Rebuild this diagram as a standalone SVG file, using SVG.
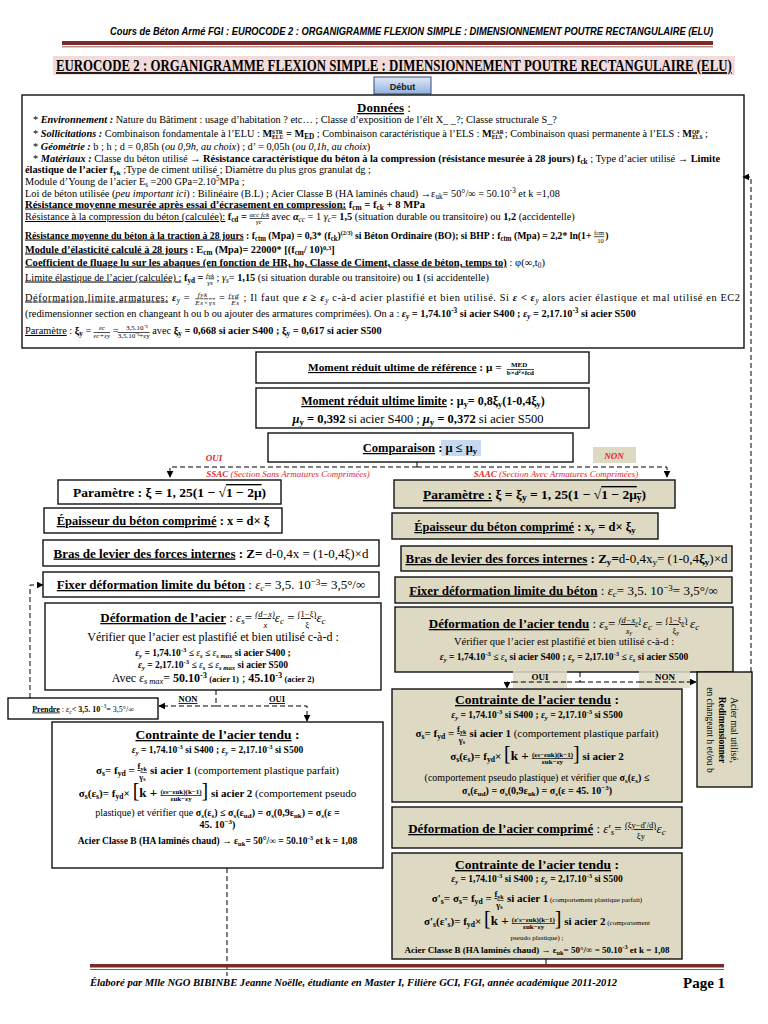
<svg xmlns="http://www.w3.org/2000/svg" width="768" height="1024" viewBox="0 0 768 1024">
<defs>
<linearGradient id="gb" x1="0" y1="0" x2="0" y2="1"><stop offset="0" stop-color="#e2eaf6"/><stop offset="1" stop-color="#8fb0dd"/></linearGradient>
<marker id="ah" viewBox="0 0 10 10" refX="9" refY="5" markerWidth="7" markerHeight="7" orient="auto" markerUnits="userSpaceOnUse"><path d="M0,0L10,5L0,10z" fill="#000"/></marker>
<style>
.s{font-family:"Liberation Serif","Times New Roman",serif;fill:#000}
.f{font-size:10.3px}
.b{font-weight:bold}
.i{font-style:italic}
.u{text-decoration:underline}
.c{text-anchor:middle}
.sb{font-size:70%;baseline-shift:-2.2px}
.sp{font-size:70%;baseline-shift:3.8px}
.sq{font-size:6.5px;baseline-shift:2.8px}
.ss{font-size:5.5px;baseline-shift:3.5px;font-weight:bold}
.su{font-size:5.5px;baseline-shift:-2px;font-weight:bold}
.n7{font-size:7px;baseline-shift:3.5px;text-decoration:underline}
.d7{font-size:7px;baseline-shift:-4px}
.n7b{font-size:7px;baseline-shift:4.5px}
.d7o{font-size:7px;baseline-shift:-4px;text-decoration:overline}
.n8{font-size:8.5px;baseline-shift:5px;text-decoration:underline}
.n8s{font-size:6px;baseline-shift:3.5px;text-decoration:underline}
.d8{font-size:8.5px;baseline-shift:-5.5px}
.d8s{font-size:6px;baseline-shift:-7px}
.wb{fill:#fff;stroke:#111;stroke-width:1.4}
.kb{fill:#ddd9c3;stroke:#111;stroke-width:1.4}
.dl{fill:none;stroke:#000;stroke-width:1;stroke-dasharray:5,3}
.red{font-family:"Liberation Serif",serif;font-style:italic;font-weight:bold;fill:#e3242b}
.rl{font-family:"Liberation Serif",serif;font-style:italic;font-size:9px;fill:#e3242b}
</style>
</defs>
<rect width="768" height="1024" fill="#fff"/>

<g id="header">
<text x="110" y="35" font-family="Liberation Sans,Arial,sans-serif" font-style="italic" font-weight="bold" font-size="10" textLength="603" lengthAdjust="spacingAndGlyphs">Cours de Béton Armé FGI : EUROCODE 2 : ORGANIGRAMME FLEXION SIMPLE : DIMENSIONNEMENT POUTRE RECTANGULAIRE (ELU)</text>
<rect x="62" y="41" width="651" height="4" fill="#7b2a2a"/>
<line x1="62" y1="46.8" x2="713" y2="46.8" stroke="#7b2a2a" stroke-width="0.8"/>
</g>

<g id="title">
<rect x="53" y="56" width="682" height="19" fill="#f2dcdb"/>
<text transform="scale(0.75,1)" x="74.67" y="71" class="s b u" font-size="17" textLength="901" lengthAdjust="spacingAndGlyphs">EUROCODE 2 : ORGANIGRAMME FLEXION SIMPLE : DIMENSIONNEMENT POUTRE RECTANGULAIRE (ELU)</text>
</g>

<g id="debut">
<rect x="374" y="77" width="57" height="17" fill="url(#gb)" stroke="#2c4a7a" stroke-width="1"/>
<text x="402.5" y="89.5" class="c" font-family="Liberation Sans,Arial,sans-serif" font-weight="bold" font-size="9" fill="#1a1a1a">Début</text>
</g>

<g id="donnees">
<rect x="22" y="95" width="722" height="253" class="wb"/>
<text x="384" y="112" class="s c b" font-size="13"><tspan class="u">Données</tspan><tspan font-weight="normal"> :</tspan></text>
<text x="33" y="122.5" class="s f">* <tspan class="b i">Environnement :</tspan> Nature du Bâtiment : usage d’habitation ? etc… ; Classe d’exposition de l’élt X_ _?; Classe structurale S_?</text>
<text x="33" y="136.5" class="s f">* <tspan class="b i">Sollicitations :</tspan> Combinaison fondamentale à l’ELU : <tspan class="b">M</tspan><tspan class="ss">STR</tspan><tspan class="su" dx="-10.7">ELU</tspan><tspan class="b">  =  M</tspan><tspan class="sb b">ED</tspan> ; Combinaison caractéristique à l’ELS : <tspan class="b">M</tspan><tspan class="ss">CAR</tspan><tspan class="su" dx="-11.9">ELS</tspan> ; Combinaison quasi permanente à l’ELS : <tspan class="b">M</tspan><tspan class="ss">QP</tspan><tspan class="su" dx="-7.6">ELS</tspan> ;</text>
<text x="33" y="149.5" class="s f">* <tspan class="b i">Géométrie :</tspan> b ; h ; d = 0,85h (<tspan class="i">ou 0,9h, au choix</tspan>) ; d’ = 0,05h (<tspan class="i">ou 0,1h, au choix</tspan>)</text>
<text x="33" y="161.5" class="s f" textLength="687" lengthAdjust="spacingAndGlyphs">* <tspan class="b i">Matériaux :</tspan> Classe du béton utilisé → <tspan class="b">Résistance caractéristique du béton à la compression (résistance mesurée à 28 jours) f</tspan><tspan class="sb b">ck</tspan> ; Type d’acier utilisé → <tspan class="b">Limite</tspan></text>
<text x="25" y="173" class="s f"><tspan class="b">élastique de l’acier f</tspan><tspan class="b" font-size="7px" baseline-shift="-1.5px">yk</tspan> ;Type de ciment utilisé ; Diamètre du plus gros granulat dg ;</text>
<text x="25" y="185" class="s f">Module d’Young de l’acier E<tspan class="sb">s</tspan> =200 GPa=2.10<tspan class="sp">5</tspan>MPa ;</text>
<text x="25" y="196.5" class="s f">Loi de béton utilisée (<tspan class="i">peu important ici</tspan>) : Bilinéaire (B.L) ; Acier Classe B (HA laminés  chaud) →ε<tspan class="sb">uk</tspan>= 50°/∞ = 50.10<tspan class="sp">-3</tspan> et k =1,08</text>
<text x="25" y="207.5" class="s f" textLength="400" lengthAdjust="spacingAndGlyphs"><tspan class="b u">Résistance moyenne mesurée après essai d’écrasement en compression:</tspan><tspan class="b"> f</tspan><tspan class="sb b">cm</tspan><tspan class="b"> = f</tspan><tspan class="sb b">ck</tspan><tspan class="b"> + 8 MPa</tspan></text>
<text x="25" y="220" class="s f"><tspan class="u">Résistance à la compression du béton (calculée):</tspan><tspan class="b"> f</tspan><tspan class="sb b">cd</tspan><tspan class="b"> = </tspan><tspan class="n7 i">αcc fck</tspan><tspan class="d7 i" dx="-13.1">γc</tspan><tspan dx="6.9">  avec </tspan><tspan class="i b">α</tspan><tspan class="sb i">cc</tspan> = 1 <tspan class="i">γ</tspan><tspan class="sb i">c</tspan>= <tspan class="b">1,5</tspan> (situation durable ou transitoire) ou <tspan class="b">1,2</tspan> (accidentelle)</text>
<text transform="translate(25,238.5) scale(0.945,1)" x="0" y="0" class="s f"><tspan class="b u">Résistance moyenne du béton à la traction à 28 jours</tspan><tspan class="b"> : f</tspan><tspan class="sb b">ctm</tspan><tspan class="b"> (Mpa)  = 0,3* (f</tspan><tspan class="sb b">ck</tspan><tspan class="b">)</tspan><tspan class="sq b">(2/3)</tspan><tspan class="b"> si Béton Ordinaire (BO); si BHP : f</tspan><tspan class="sb b">ctm</tspan><tspan class="b"> (Mpa) = 2,2* ln(1+ </tspan><tspan class="n7" font-size="6" baseline-shift="3px">fcm</tspan><tspan class="d7" font-size="6" dx="-7.3">10</tspan><tspan class="b" dx="1.5">)</tspan></text>
<text x="25" y="252.5" class="s f"><tspan class="b u">Module d’élasticité calculé à 28 jours</tspan><tspan class="b"> : E</tspan><tspan class="sb b">cm</tspan><tspan class="b"> (Mpa)= 22000* [(f</tspan><tspan class="sb b">cm</tspan><tspan class="b">/ 10)</tspan><tspan class="sq b">0,3</tspan><tspan class="b">]</tspan></text>
<text x="25" y="265.5" class="s f" textLength="520" lengthAdjust="spacingAndGlyphs"><tspan class="b u">Coefficient de fluage lu sur les abaques (en fonction de HR, ho, Classe de Ciment, classe de béton, temps to)</tspan> : φ(∞,t<tspan class="sb">0</tspan>)</text>
<text x="25" y="280.5" class="s f"><tspan class="u">Limite élastique de l’acier (calculée) :</tspan>  <tspan class="b">f</tspan><tspan class="sb b">yd</tspan><tspan class="b"> = </tspan><tspan class="n7 i">fyk</tspan><tspan class="d7 i" dx="-7">γs</tspan><tspan dx="1.2"> ; </tspan><tspan class="i">γ</tspan><tspan class="sb i">s</tspan>= <tspan class="b">1,15</tspan> (si situation durable ou transitoire) ou <tspan class="b">1</tspan> (si accidentelle)</text>
<text x="25" y="300.5" class="s f" textLength="715" lengthAdjust="spacing"><tspan class="u">Déformation limite armatures:</tspan>  <tspan class="i b">ε</tspan><tspan class="sb i">y</tspan> = <tspan class="n7b i" dx="4.3">fyk</tspan><tspan class="d7o i" dx="-12.5">Es×γs</tspan> = <tspan class="n7 i">fyd</tspan><tspan class="d7 i" dx="-7.8">Es</tspan><tspan dx="0.8"> ; Il faut que </tspan><tspan class="i b">ε ≥ ε</tspan><tspan class="sb i">y</tspan> c-à-d acier plastifié et bien utilisé. Si <tspan class="i b">ε &lt; ε</tspan><tspan class="sb i">y</tspan>  alors acier élastique et mal utilisé en EC2</text>
<text x="25" y="316.5" class="s f">(redimensionner section en changeant h ou b ou ajouter des armatures comprimées). On a : <tspan class="b i">ε</tspan><tspan class="sb b i">y</tspan><tspan class="b"> = 1,74.10</tspan><tspan class="sp b">-3</tspan><tspan class="b"> si acier S400 ; </tspan><tspan class="b i">ε</tspan><tspan class="sb b i">y</tspan><tspan class="b"> = 2,17.10</tspan><tspan class="sp b">-3</tspan><tspan class="b"> si acier S500</tspan></text>
<text x="25" y="334" class="s f"><tspan class="u">Paramètre</tspan> : <tspan class="b">ξ</tspan><tspan class="sb b">y</tspan> = <tspan class="n7b i" dx="5.1">εc</tspan><tspan class="d7o i" dx="-11.3">εc+εy</tspan> = <tspan class="n7b" dx="5">3,5.10⁻³</tspan><tspan class="d7o" dx="-30">3,5.10⁻³+εy</tspan> avec <tspan class="b">ξ</tspan><tspan class="sb b">y</tspan><tspan class="b"> = 0,668 si acier S400 ; ξ</tspan><tspan class="sb b">y</tspan><tspan class="b"> = 0,617 si acier S500</tspan></text>
</g>

<g id="moment-ref">
<rect x="256" y="352" width="333" height="31" class="wb"/>
<text x="421" y="371" class="s c b" font-size="11.3"><tspan class="u">Moment réduit ultime de référence</tspan> : μ = <tspan class="n7b" dx="6.5">MED</tspan><tspan class="d7o" dx="-20.5">b×d²×fcd</tspan></text>
</g>

<g id="moment-limite">
<rect x="256" y="388" width="333" height="40" class="wb"/>
<text x="423" y="405" class="s c b" font-size="12"><tspan class="u">Moment réduit ultime limite</tspan> : μ<tspan class="sb">y</tspan>= 0,8ξ<tspan class="sb">y</tspan>(1-0,4ξ<tspan class="sb">y</tspan>)</text>
<text x="418" y="422.5" class="s c" font-size="12.5"><tspan class="b i">μ</tspan><tspan class="sb b">y</tspan><tspan class="b"> =  0,392</tspan> si acier S400 ; <tspan class="b i">μ</tspan><tspan class="sb b">y</tspan><tspan class="b"> =  0,372</tspan> si acier S500</text>
</g>

<g id="comparaison">
<rect x="268" y="433" width="305" height="29" class="wb"/>
<rect x="441" y="440" width="40" height="16" fill="#c5d9f1"/>
<text x="420" y="452" class="s c b" font-size="12.5"><tspan class="u">Comparaison</tspan> : μ ≤ μ<tspan class="sb">y</tspan></text>
</g>

<g id="labels-comparaison">
<text x="214" y="461" class="red c" font-size="9">OUI</text>
<rect x="593" y="447" width="43" height="16" fill="#ddd9c3"/>
<text x="614" y="459" class="red c" font-size="9">NON</text>
<text x="288" y="477" class="rl c"><tspan font-weight="bold">SSAC</tspan> (Section Sans Armatures Comprimées)</text>
<text x="556" y="477" class="rl c"><tspan font-weight="bold">SAAC</tspan> (Section Avec Armatures Comprimées)</text>
</g>

<g id="l-parametre">
<rect x="58" y="480" width="223" height="24" class="wb"/>
<text x="169.5" y="497" class="s c b" font-size="13.5">Paramètre : ξ = 1, 25(1 − √<tspan text-decoration="overline">1 − 2μ</tspan>)</text>
</g>
<g id="l-epaisseur">
<rect x="44" y="508" width="238" height="25" class="wb"/>
<text x="163" y="525" class="s c b" font-size="12.5"><tspan class="u">Épaisseur du béton comprimé</tspan> : x = d× ξ</text>
</g>
<g id="l-bras">
<rect x="43" y="540" width="336" height="26" class="wb"/>
<text x="211" y="557.5" class="s c" font-size="13"><tspan class="b u">Bras de levier des forces internes</tspan><tspan class="b"> : Z=</tspan> d-0,4x = (1-0,4ξ)×d</text>
</g>
<g id="l-fixer">
<rect x="43" y="572" width="336" height="25" class="wb"/>
<text x="211" y="589" class="s c" font-size="13"><tspan class="b u">Fixer déformation limite du béton</tspan> : <tspan class="i">ε</tspan><tspan class="sb i">c</tspan>= 3,5. 10<tspan class="sp">−3</tspan>= 3,5°/∞</text>
</g>
<g id="l-deformation">
<rect x="45" y="603" width="336" height="87" class="wb"/>
<text x="213" y="622" class="s c" font-size="13"><tspan class="b u">Déformation de l’acier</tspan> : <tspan class="i">ε</tspan><tspan class="sb i">s</tspan>= <tspan class="n8 i">(d−x)</tspan><tspan class="d8 i" dx="-11.2">x</tspan><tspan class="i" dx="7.4">ε</tspan><tspan class="sb i">c</tspan> = <tspan class="n8">(1−ξ)</tspan><tspan class="d8" dx="-11">ξ</tspan><tspan class="i" dx="7.4">ε</tspan><tspan class="sb i">c</tspan></text>
<text x="213" y="641" class="s c" font-size="12">Vérifier que l’acier est plastifié et bien utilisé c-à-d :</text>
<text x="213" y="655.5" class="s c b" font-size="9.5"><tspan class="i">ε</tspan><tspan class="sb i">y</tspan> = 1,74.10<tspan class="sp">-3</tspan> ≤ <tspan class="i" font-weight="normal">ε</tspan><tspan class="sb i">s</tspan> ≤  <tspan class="i" font-weight="normal">ε</tspan><tspan class="sb i">s max</tspan> si acier S400 ;</text>
<text x="213" y="667.5" class="s c b" font-size="9.5"><tspan class="i">ε</tspan><tspan class="sb i">y</tspan> = 2,17.10<tspan class="sp">-3</tspan> ≤ <tspan class="i" font-weight="normal">ε</tspan><tspan class="sb i">s</tspan> ≤  <tspan class="i" font-weight="normal">ε</tspan><tspan class="sb i">s max</tspan> si acier S500</text>
<text x="213" y="682" class="s c" font-size="12">Avec <tspan class="i">ε</tspan><tspan class="sb i">s max</tspan>= <tspan class="b">50.10</tspan><tspan class="sp b">-3</tspan><tspan class="b" font-size="8.5"> (acier 1)</tspan> ; <tspan class="b">45.10</tspan><tspan class="sp b">-3</tspan><tspan class="b" font-size="8.5"> (acier 2)</tspan></text>
</g>
<g id="l-prendre">
<rect x="8" y="698" width="150" height="21" class="wb"/>
<text x="83" y="711.5" class="s c" font-size="8"><tspan class="b u">Prendre</tspan> : <tspan class="i">ε</tspan><tspan class="sb i">c</tspan><tspan class="b">&lt; 3,5. 10</tspan><tspan class="sp">−3</tspan>= 3,5°/∞</text>
</g>
<g id="l-contrainte">
<rect x="52" y="722" width="331" height="146" class="wb"/>
<text x="217.5" y="739" class="s c" font-size="13.5"><tspan class="b u">Contrainte de l’acier tendu</tspan><tspan class="b"> :</tspan></text>
<text x="217.5" y="753" class="s c b" font-size="9.5"><tspan class="i">ε</tspan><tspan class="sb i">y</tspan> = 1,74.10<tspan class="sp">-3</tspan> si S400 ;  <tspan class="i">ε</tspan><tspan class="sb i">y</tspan> = 2,17.10<tspan class="sp">-3</tspan> si S500</text>
<text x="217.5" y="774" class="s c" font-size="11"><tspan class="b">σ</tspan><tspan class="sb b">s</tspan><tspan class="b">= f</tspan><tspan class="sb b">yd</tspan><tspan class="b"> = </tspan><tspan class="n8 b">f</tspan><tspan class="n8s b">yk</tspan><tspan class="d8 b" dx="-7.5">γ</tspan><tspan class="d8s b">s</tspan><tspan class="b" dx="1.7">  si acier 1</tspan> (comportement plastique parfait)</text>
<text x="217.5" y="797" class="s c" font-size="11"><tspan class="b">σ</tspan><tspan class="sb b">s</tspan><tspan class="b">(ε</tspan><tspan class="sb b">s</tspan><tspan class="b">)= f</tspan><tspan class="sb b">yd</tspan><tspan class="b">× </tspan><tspan font-size="20">[</tspan><tspan class="b" font-size="13">k + </tspan><tspan class="n7 b">(εs−εuk)(k−1)</tspan><tspan class="d7 b" dx="-31.2">εuk−εy</tspan><tspan font-size="20" dx="9.9">]</tspan><tspan class="b"> si acier 2</tspan> (comportement pseudo</text>
<text x="217.5" y="816" class="s c" font-size="10">plastique) et vérifier que <tspan class="b">σ</tspan><tspan class="sb b">s</tspan><tspan class="b">(ε</tspan><tspan class="sb b">s</tspan><tspan class="b">) ≤ σ</tspan><tspan class="sb b">s</tspan><tspan class="b">(ε</tspan><tspan class="sb b">ud</tspan><tspan class="b">) = σ</tspan><tspan class="sb b">s</tspan><tspan class="b">(0,9ε</tspan><tspan class="sb b">uk</tspan><tspan class="b">) = σ</tspan><tspan class="sb b">s</tspan><tspan class="b">(ε =</tspan></text>
<text x="217.5" y="828" class="s c b" font-size="10">45. 10<tspan class="sp">−3</tspan>)</text>
<text x="217.5" y="844" class="s c b" font-size="9.5">Acier Classe B (HA laminés chaud) → ε<tspan class="sb">uk</tspan>= 50°/∞ = 50.10<tspan class="sp">-3</tspan> et k = 1,08</text>
</g>

<g id="r-parametre">
<rect x="394" y="480" width="281" height="28" class="kb"/>
<text x="534.5" y="499" class="s c b" font-size="13.5"><tspan class="u">Paramètre :</tspan> ξ = ξ<tspan class="sb">y</tspan> = 1, 25(1 − √<tspan text-decoration="overline">1 − 2μ</tspan><tspan class="sb" text-decoration="overline">y</tspan>)</text>
</g>
<g id="r-epaisseur">
<rect x="392" y="513" width="266" height="26" class="kb"/>
<text x="525" y="531" class="s c b" font-size="12.5"><tspan class="u">Épaisseur du béton comprimé</tspan> : x<tspan class="sb">y</tspan> = d× ξ<tspan class="sb">y</tspan></text>
</g>
<g id="r-bras">
<rect x="401" y="546" width="331" height="25" class="kb"/>
<text x="566.5" y="563" class="s c" font-size="13"><tspan class="b u">Bras de levier des forces internes</tspan><tspan class="b"> : Z</tspan><tspan class="sb b">y</tspan><tspan class="b">=</tspan>d-0,4x<tspan class="sb">y</tspan>= (1-0,4<tspan class="b">ξ</tspan><tspan class="sb b">y</tspan>)×d</text>
</g>
<g id="r-fixer">
<rect x="395" y="577" width="337" height="26" class="kb"/>
<text x="563.5" y="594.5" class="s c" font-size="13"><tspan class="b u">Fixer déformation limite du béton</tspan> : <tspan class="i">ε</tspan><tspan class="sb i">c</tspan>= 3,5. 10<tspan class="sp">−3</tspan>= 3,5°/∞</text>
</g>
<g id="r-deformation">
<rect x="395" y="607" width="338" height="65" class="kb"/>
<text x="564" y="628" class="s c" font-size="13"><tspan class="b u">Déformation de l’acier tendu</tspan> : <tspan class="i">ε</tspan><tspan class="sb i">s</tspan>= <tspan class="n8 i">(d−x</tspan><tspan class="n8s i">y</tspan><tspan class="n8 i">)</tspan><tspan class="d8 i" dx="-15">x</tspan><tspan class="d8s i">y</tspan><tspan class="i" dx="7.4"> ε</tspan><tspan class="sb i">c</tspan> = <tspan class="n8">(1−ξ</tspan><tspan class="n8s">y</tspan><tspan class="n8">)</tspan><tspan class="d8" dx="-14.8">ξ</tspan><tspan class="d8s">y</tspan><tspan class="i" dx="7.4"> ε</tspan><tspan class="sb i">c</tspan></text>
<text x="564" y="645" class="s c" font-size="10.5">Vérifier que l’acier est plastifié et bien utilisé c-à-d :</text>
<text x="564" y="660" class="s c b" font-size="9.5"><tspan class="i">ε</tspan><tspan class="sb i">y</tspan> = 1,74.10<tspan class="sp">-3</tspan> ≤ <tspan class="i" font-weight="normal">ε</tspan><tspan class="sb i">s</tspan> si acier S400 ;  <tspan class="i">ε</tspan><tspan class="sb i">y</tspan> = 2,17.10<tspan class="sp">-3</tspan> ≤ <tspan class="i" font-weight="normal">ε</tspan><tspan class="sb i">s</tspan> si acier S500</text>
</g>
<g id="r-acier-mal-utilise">
<rect x="697" y="672" width="55" height="115" class="kb"/>
<g transform="translate(724.5,672) rotate(90)">
<text x="58" y="-6" class="s c" font-size="9.5">Acier mal utilisé,</text>
<text x="58" y="6" class="s c b" font-size="9.5">Redimensionner</text>
<text x="58" y="18" class="s c" font-size="9.5">en changeant h et/ou b</text>
</g>
</g>
<g id="r-contrainte">
<rect x="392" y="689" width="290" height="113" class="kb"/>
<text x="537" y="704" class="s c" font-size="13.5"><tspan class="b u">Contrainte de l’acier tendu</tspan><tspan class="b"> :</tspan></text>
<text x="537" y="718" class="s c b" font-size="9.5"><tspan class="i">ε</tspan><tspan class="sb i">y</tspan> = 1,74.10<tspan class="sp">-3</tspan> si S400 ;  <tspan class="i">ε</tspan><tspan class="sb i">y</tspan> = 2,17.10<tspan class="sp">-3</tspan> si S500</text>
<text x="537" y="737" class="s c" font-size="11"><tspan class="b">σ</tspan><tspan class="sb b">s</tspan><tspan class="b">= f</tspan><tspan class="sb b">yd</tspan><tspan class="b"> = </tspan><tspan class="n8 b">f</tspan><tspan class="n8s b">yk</tspan><tspan class="d8 b" dx="-7.5">γ</tspan><tspan class="d8s b">s</tspan><tspan class="b" dx="1.7">  si acier 1</tspan> (comportement plastique parfait)</text>
<text x="537" y="760" class="s c" font-size="11"><tspan class="b">σ</tspan><tspan class="sb b">s</tspan><tspan class="b">(ε</tspan><tspan class="sb b">s</tspan><tspan class="b">)= f</tspan><tspan class="sb b">yd</tspan><tspan class="b">× </tspan><tspan font-size="20">[</tspan><tspan class="b" font-size="13">k + </tspan><tspan class="n7 b">(εs−εuk)(k−1)</tspan><tspan class="d7 b" dx="-31.2">εuk−εy</tspan><tspan font-size="20" dx="9.9">]</tspan><tspan class="b"> si acier 2</tspan></text>
<text x="537" y="781" class="s c" font-size="10">(comportement pseudo plastique) et vérifier que <tspan class="b">σ</tspan><tspan class="sb b">s</tspan><tspan class="b">(ε</tspan><tspan class="sb b">s</tspan><tspan class="b">) ≤</tspan></text>
<text x="537" y="794" class="s c b" font-size="10">σ<tspan class="sb">s</tspan>(ε<tspan class="sb">ud</tspan>) = σ<tspan class="sb">s</tspan>(0,9ε<tspan class="sb">uk</tspan>) = σ<tspan class="sb">s</tspan>(ε = 45. 10<tspan class="sp">−3</tspan>)</text>
</g>
<g id="r-deformation-comprime">
<rect x="392" y="807" width="290" height="41" class="kb"/>
<text x="537" y="833" class="s c" font-size="13"><tspan class="b u">Déformation de l’acier comprimé</tspan> : <tspan class="i">ε</tspan>'<tspan class="sb i">s</tspan>= <tspan class="n8">(ξy−d′/d)</tspan><tspan class="d8" dx="-19.3">ξy</tspan><tspan class="i" dx="11.7">ε</tspan><tspan class="sb i">c</tspan></text>
</g>
<g id="r-contrainte-2">
<rect x="392" y="853" width="290" height="106" class="kb"/>
<text x="537" y="869" class="s c" font-size="13.5"><tspan class="b u">Contrainte de l’acier tendu</tspan><tspan class="b"> :</tspan></text>
<text x="537" y="882" class="s c b" font-size="9.5"><tspan class="i">ε</tspan><tspan class="sb i">y</tspan> = 1,74.10<tspan class="sp">-3</tspan> si S400 ;  <tspan class="i">ε</tspan><tspan class="sb i">y</tspan> = 2,17.10<tspan class="sp">-3</tspan> si S500</text>
<text x="537" y="902" class="s c" font-size="11"><tspan class="b">σ'</tspan><tspan class="sb b">s</tspan><tspan class="b">= σ</tspan><tspan class="sb b">s</tspan><tspan class="b">= f</tspan><tspan class="sb b">yd</tspan><tspan class="b"> = </tspan><tspan class="n8 b">f</tspan><tspan class="n8s b">yk</tspan><tspan class="d8 b" dx="-7.5">γ</tspan><tspan class="d8s b">s</tspan><tspan class="b" dx="1.7">  si acier 1</tspan><tspan font-size="7"> (comportement plastique parfait)</tspan></text>
<text x="537" y="925" class="s c" font-size="11"><tspan class="b">σ'</tspan><tspan class="sb b">s</tspan><tspan class="b">(ε'</tspan><tspan class="sb b">s</tspan><tspan class="b">)= f</tspan><tspan class="sb b">yd</tspan><tspan class="b">× </tspan><tspan font-size="20">[</tspan><tspan class="b" font-size="13">k + </tspan><tspan class="n7 b">(ε′s−εuk)(k−1)</tspan><tspan class="d7 b" dx="-32">εuk−εy</tspan><tspan font-size="20" dx="10.5">]</tspan><tspan class="b"> si acier 2</tspan><tspan font-size="7"> (comportement</tspan></text>
<text x="537" y="940" class="s c" font-size="7">pseudo plastique) ;</text>
<text x="537" y="953" class="s c b" font-size="9">Acier Classe B (HA laminés chaud) → ε<tspan class="sb">uk</tspan>= 50°/∞ = 50.10<tspan class="sp">-3</tspan> et k = 1,08</text>
</g>

<g id="connectors">
<path d="M417,462 V467" class="dl" stroke-dasharray="none"/>
<path d="M417,467 H170 V477" class="dl" marker-end="url(#ah)"/>
<path d="M417,467 H667 V477" class="dl" marker-end="url(#ah)"/>
<path d="M216,690 V706" class="dl" stroke-dasharray="none"/>
<path d="M216,706 H159" class="dl" marker-end="url(#ah)"/>
<path d="M216,706 H307 V721" class="dl" marker-end="url(#ah)"/>
<path d="M30,698 V585 H43" class="dl" marker-end="url(#ah)"/>
<path d="M227,868 V976" class="dl" stroke-dasharray="6,3"/>
<path d="M580,672 V682" class="dl" stroke-dasharray="none"/>
<path d="M580,682 H696" class="dl" marker-end="url(#ah)"/>
<path d="M580,682 H507 V688" class="dl" marker-end="url(#ah)"/>
<path d="M751,672 V177 H743" class="dl" stroke-dasharray="6,4" marker-end="url(#ah)"/>
<path d="M546,959 V967" fill="none" stroke="#000" stroke-width="1"/>
</g>

<g id="labels-connectors">
<text x="188" y="702" class="s c b u" font-size="8.5">NON</text>
<text x="277" y="702" class="s c b u" font-size="8.5">OUI</text>
<rect x="513" y="670" width="54" height="18" fill="#ddd9c3" fill-opacity="0.85"/>
<rect x="639" y="670" width="51" height="18" fill="#ddd9c3" fill-opacity="0.85"/>
<path d="M513,682 H567 M639,682 H690" class="dl"/>
<text x="540" y="680" class="s c b" font-size="9">OUI</text>
<text x="665" y="680" class="s c b" font-size="9">NON</text>
</g>

<g id="footer">
<rect x="90" y="964" width="634" height="3.5" fill="#7b2a2a"/>
<line x1="90" y1="969.5" x2="724" y2="969.5" stroke="#7b2a2a" stroke-width="0.8"/>
<text x="90" y="986" class="s b i" font-size="10.5" textLength="527" lengthAdjust="spacingAndGlyphs">Élaboré par Mlle NGO BIBINBE Jeanne Noëlle, étudiante en Master I, Filière GCI, FGI, année académique 2011-2012</text>
<text x="683" y="988" class="s b" font-size="15">Page 1</text>
</g>
</svg>
